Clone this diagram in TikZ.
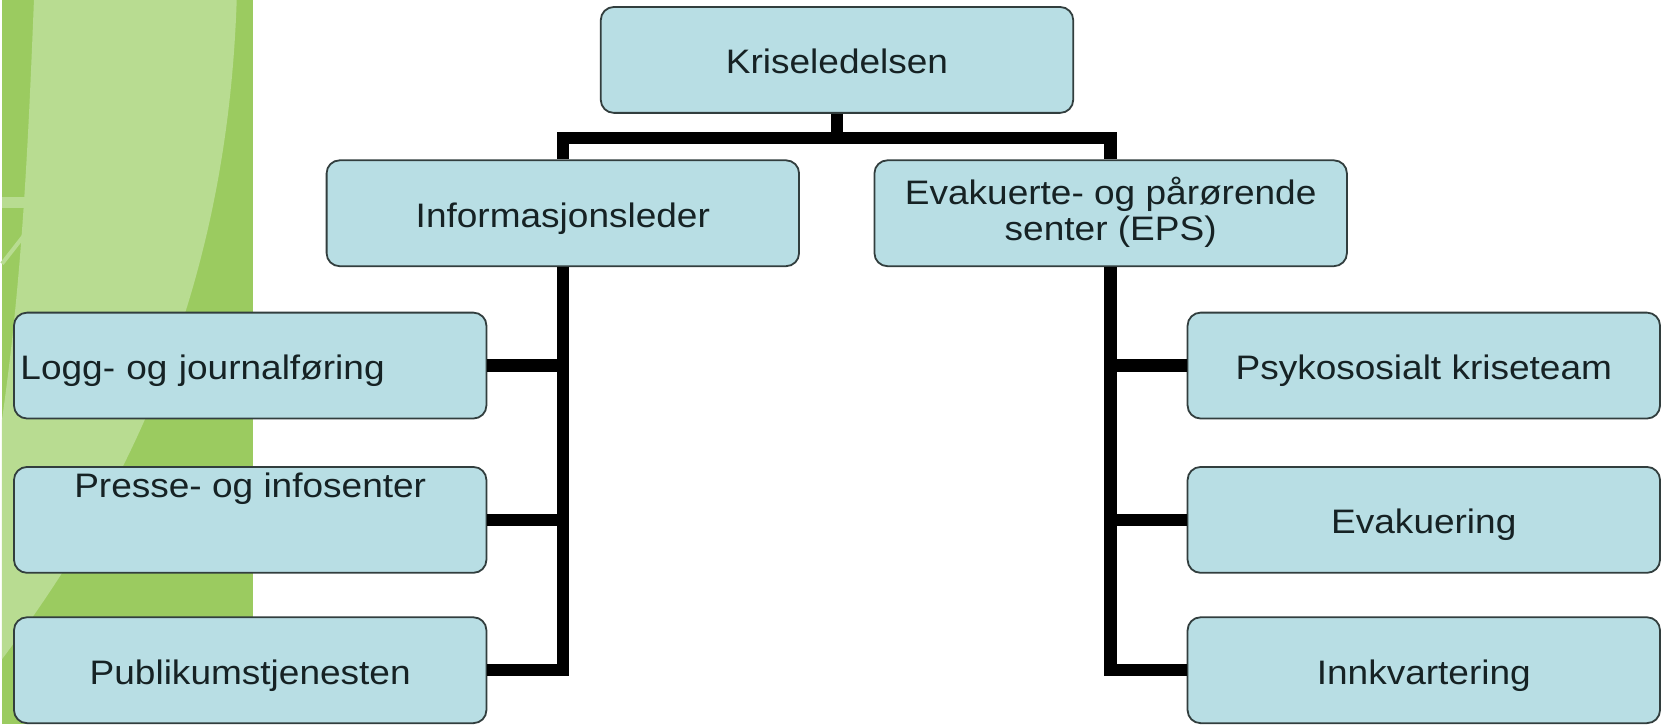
\documentclass[tikz,border=0pt]{standalone}
\usepackage{fontspec}
\setmainfont{Liberation Sans}[FakeStretch=1.09]

\definecolor{boxfill}{RGB}{184,222,228}
\definecolor{boxline}{RGB}{50,62,62}
\definecolor{textdark}{RGB}{22,34,36}
\definecolor{leafgreen}{RGB}{155,203,96}
\definecolor{bandgreen}{RGB}{184,220,145}

\begin{document}
\begin{tikzpicture}
	[
		x = 0.5pt, y = -0.5pt,
		unit/.style = {draw = boxline, line width = 0.9pt, fill = boxfill, text = textdark,
			rounded corners = 6.5pt, minimum width = 236.5pt, minimum height = 53pt,
			inner sep = 0pt, text height = 14pt, text depth = 0pt,
			font = \fontsize{17}{18}\selectfont},
		link/.style = {line width = 6.2pt, black, line join = miter}
	]
	\fill[white] (0,0) rectangle (1667,725);
	\fill[leafgreen] (0,0) rectangle (251,725);
	\fill[bandgreen] (32,0) .. controls (26,150) and (20,280) .. (0,420) -- (0,660)
		.. controls (120,500) and (225,300) .. (235,0) -- cycle;
	\fill[bandgreen] (0,197) rectangle (25,208);
	\draw[bandgreen, line width = 2pt] (25,232) -- (0,264);

	\node[unit] (krise) at (836,60) {Kriseledelsen};
	\node[unit] (info) at (561.5,213.5) {Informasjonsleder};
	\node[unit, align = center, text height = 30.4pt, text depth = 3.6pt] (eps) at (1110,213.5)
		{Evakuerte- og pårørende\\senter (EPS)};

	\node[unit, text width = 230pt, align = left] (logg) at (248.5,366) {Logg- og journalføring};
	\node[unit, text depth = 36.5pt] (presse) at (248.5,520.5) {Presse- og infosenter};
	\node[unit] (publikum) at (248.5,671) {Publikumstjenesten};

	\node[unit] (psyko) at (1423.5,366) {Psykososialt kriseteam};
	\node[unit] (evak) at (1423.5,520.5) {Evakuering};
	\node[unit] (innk) at (1423.5,671) {Innkvartering};

	\draw[link] (krise.south) -- ++(0,24) -| (info.north);
	\draw[link] (krise.south) -- ++(0,24) -| (eps.north);
	\draw[link] (info.south) |- (logg.east);
	\draw[link] (info.south) |- (presse.east);
	\draw[link] (info.south) |- (publikum.east);
	\draw[link] (eps.south) |- (psyko.west);
	\draw[link] (eps.south) |- (evak.west);
	\draw[link] (eps.south) |- (innk.west);
\end{tikzpicture}
\end{document}
